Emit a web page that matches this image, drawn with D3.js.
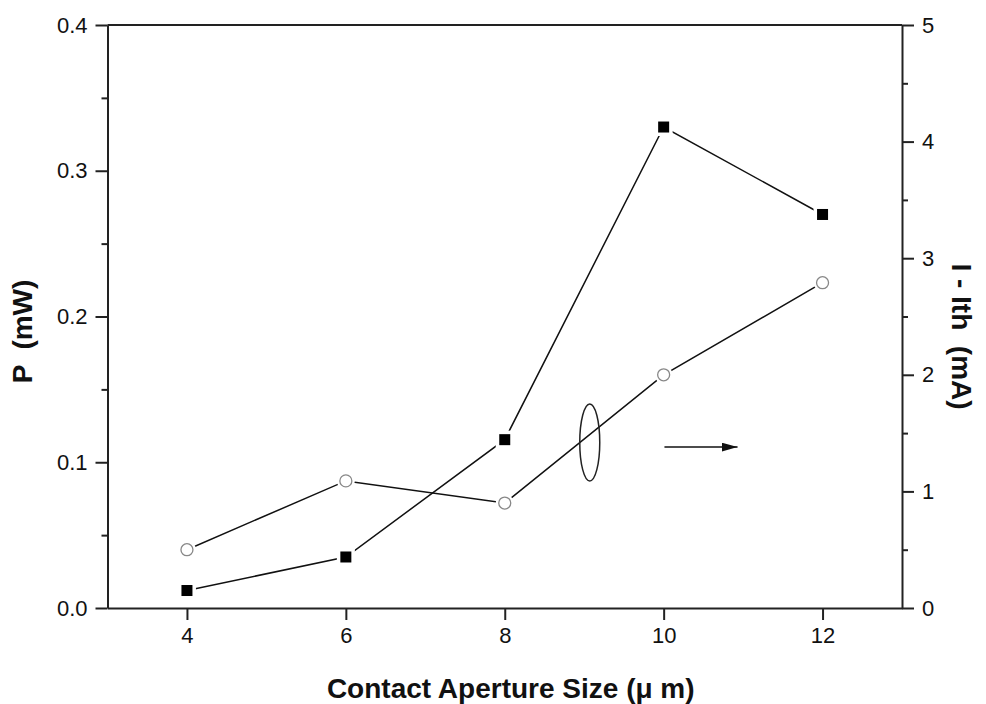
<!DOCTYPE html>
<meta charset="utf-8">
<style>
body { margin: 0; background: #fff; }
svg text { font-family: "Liberation Sans", Arial, sans-serif; fill: #111; }
.axis path, .axis line { stroke: #222; stroke-width: 2px; }
.axis text { font-size: 22px; }
.title { font-weight: bold; font-size: 28px; }
.line { fill: none; stroke: #111; stroke-width: 1.5px; }
</style>
<body>
<script src="https://d3js.org/d3.v7.min.js"></script>
<script>

// data
var sizes = [4, 6, 8, 10, 12];
var power = [0.012, 0.035, 0.1155, 0.330, 0.270];      // squares, left axis (mW)
var current = [0.50, 1.09, 0.90, 2.00, 2.79];          // circles, right axis (mA)
var xTicks = [4, 6, 8, 10, 12];
var yLeftTicks = [0.0, 0.1, 0.2, 0.3, 0.4];
var yRightTicks = [0, 1, 2, 3, 4, 5];

var margin = {top: 25, right: 84, bottom: 96, left: 107.5},
    width = 986 - margin.left - margin.right,
    height = 704 - margin.top - margin.bottom;

var x = d3.scaleLinear().domain([3, 13]).range([0, width]);
var y0 = d3.scaleLinear().domain([0, 0.4]).range([height, 0]);
var y1 = d3.scaleLinear().domain([0, 5]).range([height, 0]);

var svg = d3.select("body").append("svg")
    .attr("width", 986)
    .attr("height", 704)
  .append("g")
    .attr("transform", "translate(" + margin.left + "," + margin.top + ")");

// minor ticks
svg.append("g").attr("class", "axis")
    .call(d3.axisLeft(y0).tickValues(d3.range(0.05, 0.4, 0.1)).tickSize(6).tickFormat(""))
    .select(".domain").remove();
svg.append("g").attr("class", "axis")
    .attr("transform", "translate(" + width + ",0)")
    .call(d3.axisRight(y1).tickValues(d3.range(0.5, 5, 1)).tickSize(6).tickFormat(""))
    .select(".domain").remove();

// main axes
svg.append("g").attr("class", "axis")
    .attr("transform", "translate(0," + height + ")")
    .call(d3.axisBottom(x).tickValues(xTicks).tickSize(12).tickSizeOuter(0).tickPadding(7));
svg.append("g").attr("class", "axis")
    .call(d3.axisLeft(y0).tickValues(yLeftTicks).tickSize(12).tickSizeOuter(0).tickPadding(8)
      .tickFormat(d3.format(".1f")));
svg.append("g").attr("class", "axis")
    .attr("transform", "translate(" + width + ",0)")
    .call(d3.axisRight(y1).tickValues(yRightTicks).tickSize(12).tickSizeOuter(0).tickPadding(8)
      .tickFormat(d3.format("d")));
svg.append("line")
    .attr("x1", 0).attr("x2", width).attr("y1", 0).attr("y2", 0)
    .style("stroke", "#222").style("stroke-width", "2px");

var pData = sizes.map(function(s, i) { return {x: s, y: power[i]}; });
var cData = sizes.map(function(s, i) { return {x: s, y: current[i]}; });

svg.append("path").datum(pData).attr("class", "line")
    .attr("d", d3.line().x(d => x(d.x)).y(d => y0(d.y)));
svg.append("path").datum(cData).attr("class", "line")
    .attr("d", d3.line().x(d => x(d.x)).y(d => y1(d.y)));

// white halos so the lines stop short of the markers
svg.selectAll(".halo1").data(pData).enter().append("rect")
    .attr("x", d => x(d.x) - 9).attr("y", d => y0(d.y) - 9)
    .attr("width", 18).attr("height", 18).style("fill", "#fff");
svg.selectAll(".halo2").data(cData).enter().append("circle")
    .attr("cx", d => x(d.x)).attr("cy", d => y1(d.y)).attr("r", 9).style("fill", "#fff");

svg.selectAll(".sq").data(pData).enter().append("rect")
    .attr("x", d => x(d.x) - 5.5).attr("y", d => y0(d.y) - 5.5)
    .attr("width", 11).attr("height", 11).style("fill", "#000");
svg.selectAll(".ci").data(cData).enter().append("circle")
    .attr("cx", d => x(d.x)).attr("cy", d => y1(d.y)).attr("r", 6)
    .style("fill", "#fff").style("stroke", "#888").style("stroke-width", 1.3);

// ellipse and arrow pointing to the right axis
svg.append("ellipse")
    .attr("cx", x(9.07)).attr("cy", y1(1.42))
    .attr("rx", 10).attr("ry", 38.5)
    .style("fill", "none").style("stroke", "#222").style("stroke-width", 1.5);

svg.append("defs").append("marker")
    .attr("id", "arr").attr("viewBox", "0 0 10 10")
    .attr("preserveAspectRatio", "none")
    .attr("refX", 10).attr("refY", 5)
    .attr("markerWidth", 16).attr("markerHeight", 9)
    .attr("markerUnits", "userSpaceOnUse")
    .attr("orient", "auto")
  .append("path").attr("d", "M0,0L10,5L0,10Z").style("fill", "#111");
svg.append("line")
    .attr("x1", x(10.01)).attr("x2", x(10.93))
    .attr("y1", y1(1.38)).attr("y2", y1(1.38))
    .style("stroke", "#111").style("stroke-width", 1.5)
    .attr("marker-end", "url(#arr)");

// labels
svg.append("text").attr("class", "title")
    .attr("text-anchor", "middle")
    .attr("x", x(8) + 6).attr("y", height + 90)
    .text("Contact Aperture Size (\u03bc m)");
svg.append("text").attr("class", "title")
    .attr("text-anchor", "middle")
    .attr("transform", "translate(" + (-76) + "," + (y0(0.2) + 15) + ")rotate(-90)")
    .style("white-space", "pre")
    .text("P  (mW)");
svg.append("text").attr("class", "title")
    .attr("text-anchor", "middle")
    .attr("transform", "translate(" + (width + 50) + "," + (y1(2.5) + 20) + ")rotate(90)")
    .style("white-space", "pre")
    .text("I - Ith  (mA)");

</script>
</body>
